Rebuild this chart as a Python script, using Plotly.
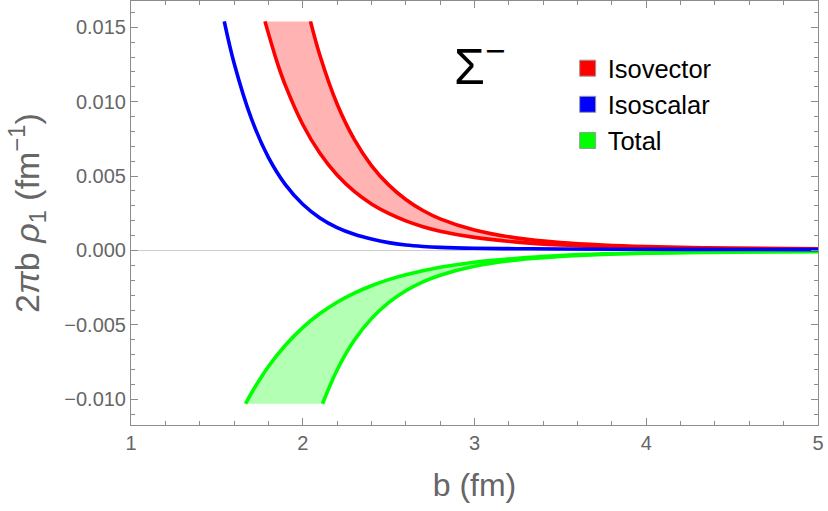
import plotly.graph_objects as go

# Isoscalar (blue)
iso_s_b = [1.543, 1.6, 1.7, 1.8, 1.9, 2.0, 2.1, 2.2, 2.3, 2.4, 2.5, 2.6, 2.7, 2.8, 3.0, 3.25, 3.5, 4.0, 4.5, 5.0]
iso_s_y = [0.0154, 0.0126, 0.00889, 0.00626, 0.00441, 0.00311, 0.00219, 0.00154, 0.00109, 0.00077,
           0.00053, 0.00037, 0.00027, 0.00021, 0.00015, 0.00012, 0.0001, 0.00008, 0.00007, 0.00006]

# Isovector band (red): lower and upper edges
iv_lo_b = [1.78, 1.85, 1.9, 2.0, 2.1, 2.2, 2.3, 2.4, 2.5, 2.6, 2.7, 2.8, 3.0, 3.25, 3.5, 3.75, 4.0, 4.5, 5.0]
iv_lo_y = [0.0154, 0.01268, 0.01106, 0.00847, 0.00653, 0.00507, 0.00397, 0.00313, 0.00249, 0.00199,
           0.0016, 0.0013, 0.00088, 0.00056, 0.00037, 0.00026, 0.00019, 0.00012, 0.00009]
iv_hi_b = [2.045, 2.1, 2.2, 2.3, 2.4, 2.5, 2.6, 2.7, 2.8, 3.0, 3.25, 3.5, 3.75, 4.0, 4.5, 5.0]
iv_hi_y = [0.0154, 0.01311, 0.00985, 0.00747, 0.00571, 0.00441, 0.00343, 0.00269, 0.00213, 0.00138,
           0.00083, 0.00053, 0.00036, 0.00026, 0.00016, 0.00012]

# Total band (green): upper and lower edges
tot_up_b = [1.667, 1.7, 1.8, 1.9, 2.0, 2.1, 2.2, 2.3, 2.4, 2.5, 2.6, 2.8, 3.0, 3.25, 3.5, 3.75, 4.0, 4.5, 5.0]
tot_up_y = [-0.0103, -0.00961, -0.0078, -0.00635, -0.00518, -0.00424, -0.00348, -0.00287, -0.00237,
            -0.00196, -0.00163, -0.00113, -0.00079, -0.00052, -0.00034, -0.00023, -0.00016, -0.00008, -0.00004]
tot_lo_b = [2.115, 2.2, 2.3, 2.4, 2.5, 2.6, 2.7, 2.8, 3.0, 3.25, 3.5, 3.75, 4.0, 4.5, 5.0]
tot_lo_y = [-0.0103, -0.00803, -0.00604, -0.00458, -0.00351, -0.00271, -0.00211, -0.00166, -0.00106,
            -0.00063, -0.0004, -0.00027, -0.00019, -0.00011, -0.00008]

legend_names = ["Isovector", "Isoscalar", "Total"]
legend_colors = ["#ff0000", "#0000ff", "#00ff00"]

x_ticks = [1, 2, 3, 4, 5]
y_ticks = [-0.010, -0.005, 0.0, 0.005, 0.010, 0.015]

RED, BLUE, GREEN = "#ff0000", "#0000ff", "#00ff00"
LW = 3.6
FONT = "Liberation Sans, Arial"

fig = go.Figure()

# fills
fig.add_trace(go.Scatter(
    x=iv_lo_b + iv_hi_b[::-1], y=iv_lo_y + iv_hi_y[::-1],
    fill="toself", fillcolor="#ffb3b3", mode="none", line=dict(shape="spline"),
    showlegend=False, hoverinfo="skip"))
fig.add_trace(go.Scatter(
    x=tot_up_b + tot_lo_b[::-1], y=tot_up_y + tot_lo_y[::-1],
    fill="toself", fillcolor="#b3ffb3", mode="none", line=dict(shape="spline"),
    showlegend=False, hoverinfo="skip"))

# curves
for bx, by, c in [(iv_lo_b, iv_lo_y, RED), (iv_hi_b, iv_hi_y, RED),
                  (tot_up_b, tot_up_y, GREEN), (tot_lo_b, tot_lo_y, GREEN),
                  (iso_s_b, iso_s_y, BLUE)]:
    fig.add_trace(go.Scatter(x=bx, y=by, mode="lines",
                             line=dict(color=c, width=LW, shape="spline", smoothing=1.0),
                             showlegend=False))

# legend entries
for n, c in zip(legend_names, legend_colors):
    fig.add_trace(go.Scatter(x=[None], y=[None], mode="markers", name=n,
                             legendgroup=n,
                             marker=dict(symbol="square", size=17, color=c,
                                         line=dict(color="#999999", width=1))))

fig.add_annotation(x=3.03, y=0.0126, xref="x", yref="y",
                   text="Σ<sup>−</sup>", showarrow=False,
                   font=dict(family=FONT, size=50, color="black"))

axis_common = dict(
    showline=True, linecolor="#8c8c8c", linewidth=1, mirror="ticks",
    ticks="inside", ticklen=7, tickcolor="#8c8c8c", tickwidth=1,
    showgrid=False,
    tickfont=dict(family=FONT, size=20, color="#666666"),
)

fig.update_layout(
    width=828, height=511,
    margin=dict(l=131, r=10, t=1, b=86),
    paper_bgcolor="white", plot_bgcolor="white",
    font=dict(family=FONT),
    legend=dict(x=0.6356, y=0.896, xanchor="left", yanchor="top",
                font=dict(size=25.5, color="black"), tracegroupgap=0,
                bgcolor="rgba(0,0,0,0)", itemsizing="trace"),
    xaxis=dict(range=[1, 5], tickvals=x_ticks, tickformat="d",
               minor=dict(dtick=0.2, ticks="inside", ticklen=4, tickcolor="#8c8c8c"),
               zeroline=False,
               title=dict(text="b (fm)", font=dict(size=32, color="#666666"), standoff=20),
               **axis_common),
    yaxis=dict(range=[-0.01173, 0.01677], tickvals=y_ticks, tickformat=".3f",
               minor=dict(dtick=0.001, ticks="inside", ticklen=4, tickcolor="#8c8c8c"),
               zeroline=True, zerolinecolor="#cccccc", zerolinewidth=1,
               title=dict(text="2<i>π</i>b <i>ρ</i><sub>1</sub> (fm<sup>−1</sup>)",
                          font=dict(size=34, color="#666666"), standoff=14),
               **axis_common),
)

fig.write_html("out.html")
